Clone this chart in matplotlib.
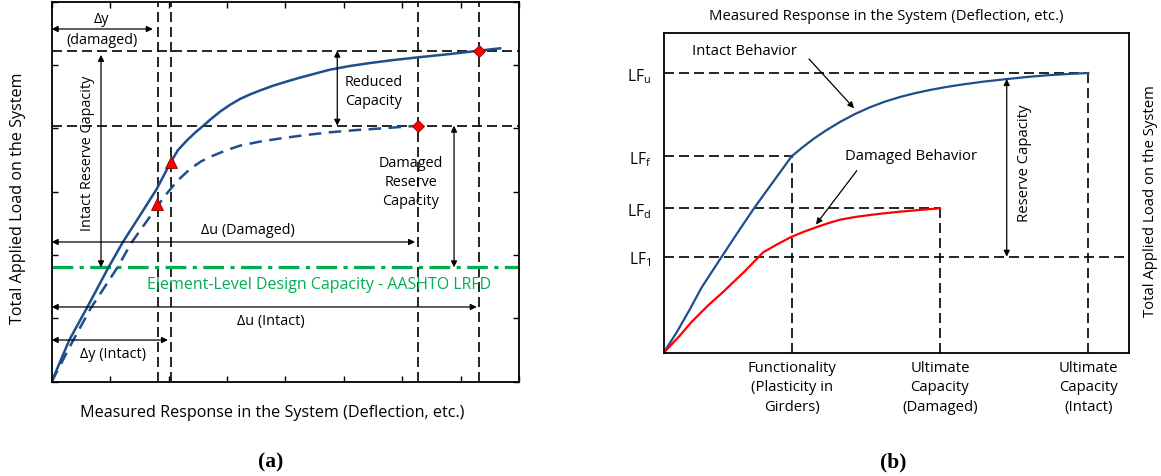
import numpy as np
import matplotlib
matplotlib.use("Agg")
import matplotlib.pyplot as plt

plt.rcParams['font.family'] = ['Open Sans', 'DejaVu Sans']
plt.rcParams['mathtext.fontset'] = 'custom'
plt.rcParams['mathtext.rm'] = 'Open Sans'
plt.rcParams['mathtext.it'] = 'Open Sans:italic'

BLUE = '#1F4E8C'
GREEN = '#00B050'
RED = '#FF0000'

# ---------------- panel (a) data (x: 0..8, y: 0..6) ----------------
intact_x = [0, 0.301, 0.599, 0.969, 1.216, 1.527, 1.798, 2.042, 2.160, 2.311, 2.455,
            2.595, 2.730, 2.881, 3.050, 3.224, 3.395, 3.566, 3.780, 3.994, 4.208,
            4.422, 4.765, 5.100, 5.450, 5.860, 6.276, 6.819, 7.317, 7.676]
intact_y = [0, 0.658, 1.159, 1.800, 2.201, 2.648, 3.043, 3.474, 3.655, 3.806, 3.932,
            4.042, 4.150, 4.263, 4.370, 4.464, 4.536, 4.598, 4.670, 4.732, 4.790,
            4.843, 4.927, 4.984, 5.032, 5.080, 5.122, 5.174, 5.227, 5.264]
damaged_x = [0, 0.370, 0.668, 1.123, 1.370, 1.715, 1.940, 2.150, 2.368, 2.560, 2.762,
             2.990, 3.224, 3.560, 3.908, 4.330, 4.765, 5.200, 5.621, 6.276]
damaged_y = [0, 0.658, 1.159, 1.800, 2.201, 2.648, 2.937, 3.170, 3.359, 3.480, 3.569,
             3.655, 3.727, 3.790, 3.840, 3.893, 3.938, 3.972, 3.998, 4.042]
yield_pts_x = [2.042, 1.808]          # triangles (intact, damaged)
yield_pts_y = [3.474, 2.806]
ult_pts_x = [7.317, 6.276]            # diamonds (intact, damaged)
ult_pts_y = [5.227, 4.042]
a_vlines = [1.825, 2.043, 6.277, 7.317]
a_hlines = [5.227, 4.042]
design_cap = 1.806

# ---------------- panel (b) data (x: 0..100, y: 0..100) ----------------
b_intact_x = [0, 2.84, 5.70, 8.22, 12.52, 16.02, 19.46, 23.55, 27.57, 30.0, 32.5,
              35.0, 37.96, 41.2, 44.41, 47.6, 50.86, 54.1, 57.31, 60.5, 63.76,
              68.8, 73.81, 78.5, 83.12, 87.2, 91.35]
b_intact_y = [0, 6.47, 13.75, 20.53, 30.09, 37.80, 45.22, 53.44, 61.47, 64.40, 67.15,
              69.6, 72.2, 74.7, 76.8, 78.55, 80.0, 81.2, 82.2, 83.05, 83.8,
              84.8, 85.6, 86.3, 86.85, 87.2, 87.5]
b_damaged_x = [0, 3.44, 5.96, 9.46, 12.80, 17.53, 21.44, 24.5, 27.57, 30.2, 32.8,
               35.4, 37.96, 41.2, 44.41, 47.6, 50.86, 55.2, 59.46]
b_damaged_y = [0, 5.31, 9.59, 14.69, 19.06, 25.63, 31.47, 34.0, 36.34, 37.9, 39.28,
               40.55, 41.66, 42.5, 43.13, 43.68, 44.16, 44.72, 45.22]
lf_values = [87.5, 61.47, 45.22, 30.09]
lf_labels = [r'LF$_\mathrm{u}$', r'LF$_\mathrm{f}$', r'LF$_\mathrm{d}$', r'LF$_\mathrm{1}$']
lf_xend = [91.35, 27.57, 59.46, 100]
cap_x = [27.57, 59.46, 91.35]
cap_ytop = [61.47, 45.22, 87.5]
cap_labels = ['Functionality\n(Plasticity in\nGirders)',
              'Ultimate\nCapacity\n(Damaged)',
              'Ultimate\nCapacity\n(Intact)']

fig = plt.figure(figsize=(11.61, 4.77), dpi=100)
W, H = 1161, 477

dash_k = dict(color='black', lw=1.2, dashes=(6, 3))
arr = dict(arrowstyle='<|-|>', color='black', lw=0.9, mutation_scale=9,
           shrinkA=0, shrinkB=0)
fa = 10.4   # annotation size, panel (a)
fb = 10.7   # text size, panel (b)
flab = 11.6

# ================= panel (a) =================
ax = fig.add_axes([51.7 / W, 1 - 382.7 / H, 467.3 / W, 380 / H])
ax.set_xlim(0, 8)
ax.set_ylim(0, 6)
ax.set_xticks(np.arange(0, 9))
ax.set_yticks(np.arange(0, 7))
ax.tick_params(direction='in', length=4, width=1, top=True, right=True,
               labelbottom=False, labelleft=False)
for s in ax.spines.values():
    s.set_linewidth(1.3)

for v in a_vlines:
    ax.axvline(v, **dash_k)
for h in a_hlines:
    ax.axhline(h, **dash_k)
ax.axhline(design_cap, color=GREEN, lw=2.3, dashes=(6.5, 2, 1.3, 2))

ax.plot(intact_x, intact_y, color=BLUE, lw=1.8)
ax.plot(damaged_x, damaged_y, color=BLUE, lw=1.8, dashes=(5, 3))
ax.plot(yield_pts_x, yield_pts_y, '^', color=RED, mec='#8B0000', mew=0.6, ms=8, zorder=5)
ax.plot(ult_pts_x, ult_pts_y, 'D', color=RED, mec='#8B0000', mew=0.6, ms=6.5, zorder=5)

ax.annotate('', xy=(0.0, 5.569), xytext=(1.73, 5.569), arrowprops=arr)
ax.text(0.858, 5.73, 'Δy', ha='center', va='center', fontsize=fa)
ax.text(0.858, 5.40, '(damaged)', ha='center', va='center', fontsize=fa)

ax.annotate('', xy=(0.844, 5.16), xytext=(0.844, design_cap), arrowprops=arr)
ax.text(0.613, 3.62, 'Intact Reserve Capacity', rotation=90, ha='center',
        va='center', fontsize=fa)

ax.annotate('', xy=(4.889, 5.227), xytext=(4.889, 4.042), arrowprops=arr)
ax.text(5.015, 4.595, 'Reduced\nCapacity', ha='left', va='center', fontsize=fa,
        linespacing=1.35)

ax.annotate('', xy=(6.888, 4.042), xytext=(6.888, design_cap), arrowprops=arr)
ax.text(6.146, 3.158, 'Damaged\nReserve\nCapacity', ha='center', va='center',
        fontsize=fa, linespacing=1.35)

ax.annotate('', xy=(0.0, 2.206), xytext=(6.22, 2.206), arrowprops=arr)
ax.text(3.361, 2.411, 'Δu (Damaged)', ha='center', va='center', fontsize=fa)

ax.text(4.576, 1.542, 'Element-Level Design Capacity - AASHTO LRFD', color=GREEN,
        ha='center', va='center', fontsize=11.5)

ax.annotate('', xy=(0.0, 1.18), xytext=(7.276, 1.18), arrowprops=arr)
ax.text(3.746, 0.963, 'Δu (Intact)', ha='center', va='center', fontsize=fa)

ax.annotate('', xy=(0.0, 0.658), xytext=(1.99, 0.658), arrowprops=arr)
ax.text(1.049, 0.453, 'Δy (Intact)', ha='center', va='center', fontsize=fa)

fig.text(272 / W, 1 - 413 / H, 'Measured Response in the System (Deflection, etc.)',
         ha='center', va='center', fontsize=flab)
fig.text(18 / W, 1 - 198 / H, 'Total Applied Load on the System', rotation=90,
         ha='center', va='center', fontsize=flab)
fig.text(271 / W, 1 - 462 / H, '(a)', ha='center', va='center', fontsize=15.5,
         fontweight='bold', family='Liberation Serif')

# ================= panel (b) =================
bx = fig.add_axes([663.5 / W, 1 - 354 / H, 465 / W, 320 / H])
bx.set_xlim(0, 100)
bx.set_ylim(0, 100)
for s in bx.spines.values():
    s.set_linewidth(1.3)
bx.set_yticks(lf_values)
bx.set_yticklabels(lf_labels, fontsize=fb + 0.5)
bx.set_xticks(cap_x)
bx.set_xticklabels(cap_labels, fontsize=fb, linespacing=1.4)
bx.tick_params(length=0)
bx.tick_params(axis='y', pad=9)
bx.tick_params(axis='x', pad=5)

for v, xe in zip(lf_values, lf_xend):
    bx.plot([0, xe], [v, v], **dash_k)
for xv, yt in zip(cap_x, cap_ytop):
    bx.plot([xv, xv], [0, yt], **dash_k)

bx.plot(b_intact_x, b_intact_y, color=BLUE, lw=1.6)
bx.plot(b_damaged_x, b_damaged_y, color=RED, lw=1.6)

bx.annotate('', xy=(73.81, 85.6), xytext=(73.81, 30.09), arrowprops=arr)
bx.text(77.7, 59.7, 'Reserve Capacity', rotation=90, ha='center', va='center',
        fontsize=fb)

bx.text(17.5, 94.5, 'Intact Behavior', ha='center', va='center', fontsize=fb)
bx.annotate('', xy=(40.97, 76.5), xytext=(31.29, 91.88),
            arrowprops=dict(arrowstyle='-|>', color='black', lw=0.9,
                            mutation_scale=9, shrinkA=0, shrinkB=0))
bx.text(53.3, 61.7, 'Damaged Behavior', ha='center', va='center', fontsize=fb)
bx.annotate('', xy=(32.8, 40.2), xytext=(41.57, 56.97),
            arrowprops=dict(arrowstyle='-|>', color='black', lw=0.9,
                            mutation_scale=9, shrinkA=0, shrinkB=0))

fig.text(886 / W, 1 - 16 / H, 'Measured Response in the System (Deflection, etc.)',
         ha='center', va='center', fontsize=fb)
fig.text(1150.5 / W, 1 - 201 / H, 'Total Applied Load on the System', rotation=90,
         ha='center', va='center', fontsize=fb)
fig.text(893 / W, 1 - 462 / H, '(b)', ha='center', va='center', fontsize=15.5,
         fontweight='bold', family='Liberation Serif')

fig.savefig('out.png', dpi=100)
